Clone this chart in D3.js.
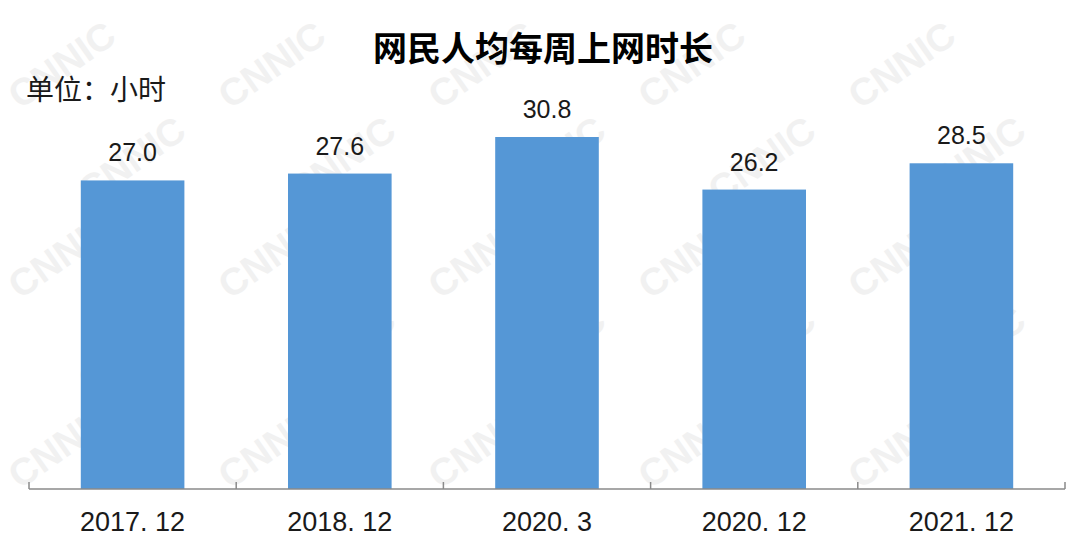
<!DOCTYPE html>
<html>
<head>
<meta charset="utf-8">
<script src="https://cdn.jsdelivr.net/npm/d3@7"></script>
<style>
html,body{margin:0;padding:0;background:#fff;}
svg{display:block;}
</style>
</head>
<body>
<svg id="chart" width="1080" height="540"></svg>
<script>
const categories = ["2017. 12", "2018. 12", "2020. 3", "2020. 12", "2021. 12"];
const values = [27.0, 27.6, 30.8, 26.2, 28.5];
const title = "网民人均每周上网时长";
const unitLabel = "单位：小时";

const W = 1080, H = 540;
const svg = d3.select("#chart");
const cjk = "'Noto Sans CJK SC', 'Noto Sans', sans-serif";
const latin = "'Liberation Sans', Arial, sans-serif";

// faint watermark, only copies that fit wholly inside the picture
const wm = svg.append("g").attr("fill", "#f1f1f1").attr("font-family", latin)
  .attr("font-weight", "bold").attr("font-size", 38);
for (let r = 0; r < 8; r++) {
  for (let c = 0; c < 7; c++) {
    const px = c * 210 + (r % 2) * 70 + 20;
    const py = r * 95 + 110;
    // text ~125px wide rotated -35deg: extends ~102 right, ~72 up
    if (px < 4 || px + 130 > W - 4 || py - 100 < 4 || py + 10 > H - 4) continue;
    wm.append("text").attr("transform", `translate(${px},${py}) rotate(-35)`).text("CNNIC");
  }
}

const x = d3.scaleBand().domain(categories).range([29, 1065]).paddingInner(0.5).paddingOuter(0.25);
const y = d3.scaleLinear().domain([0, 35]).range([489, 89]);

svg.append("g").selectAll("rect").data(values).join("rect")
  .attr("x", (d, i) => x(categories[i]))
  .attr("width", x.bandwidth())
  .attr("y", d => y(d))
  .attr("height", d => y(0) - y(d))
  .attr("fill", "#5597d6");

svg.append("g").selectAll("text").data(values).join("text")
  .attr("x", (d, i) => x(categories[i]) + x.bandwidth() / 2)
  .attr("y", d => y(d) - 19)
  .attr("text-anchor", "middle")
  .attr("font-family", latin)
  .attr("font-size", 25)
  .attr("fill", "#1a1a1a")
  .text(d => d.toFixed(1));

// axis
const xt = d3.scaleBand().domain(categories).range([29, 1065]);
const axisG = svg.append("g");
axisG.append("line").attr("x1", 29).attr("x2", 1065).attr("y1", 489).attr("y2", 489)
  .attr("stroke", "#8a8a8a").attr("stroke-width", 1.5);
const tickPos = categories.map(c => xt(c)).concat([xt.range()[1]]);
axisG.selectAll("line.tick").data(tickPos).join("line").attr("class", "tick")
  .attr("x1", d => d).attr("x2", d => d).attr("y1", 482).attr("y2", 489)
  .attr("stroke", "#8a8a8a").attr("stroke-width", 1.5);
axisG.selectAll("text").data(categories).join("text")
  .attr("x", d => xt(d) + xt.bandwidth() / 2)
  .attr("y", 531)
  .attr("text-anchor", "middle")
  .attr("font-family", latin)
  .attr("font-size", 27)
  .attr("fill", "#1a1a1a")
  .text(d => d);

svg.append("text").attr("x", 543).attr("y", 61).attr("text-anchor", "middle")
  .attr("font-family", cjk).attr("font-weight", "bold").attr("font-size", 34)
  .attr("fill", "#000").text(title);

svg.append("text").attr("x", 26).attr("y", 100)
  .attr("font-family", cjk).attr("font-size", 28)
  .attr("fill", "#1a1a1a").text(unitLabel);
</script>
</body>
</html>
